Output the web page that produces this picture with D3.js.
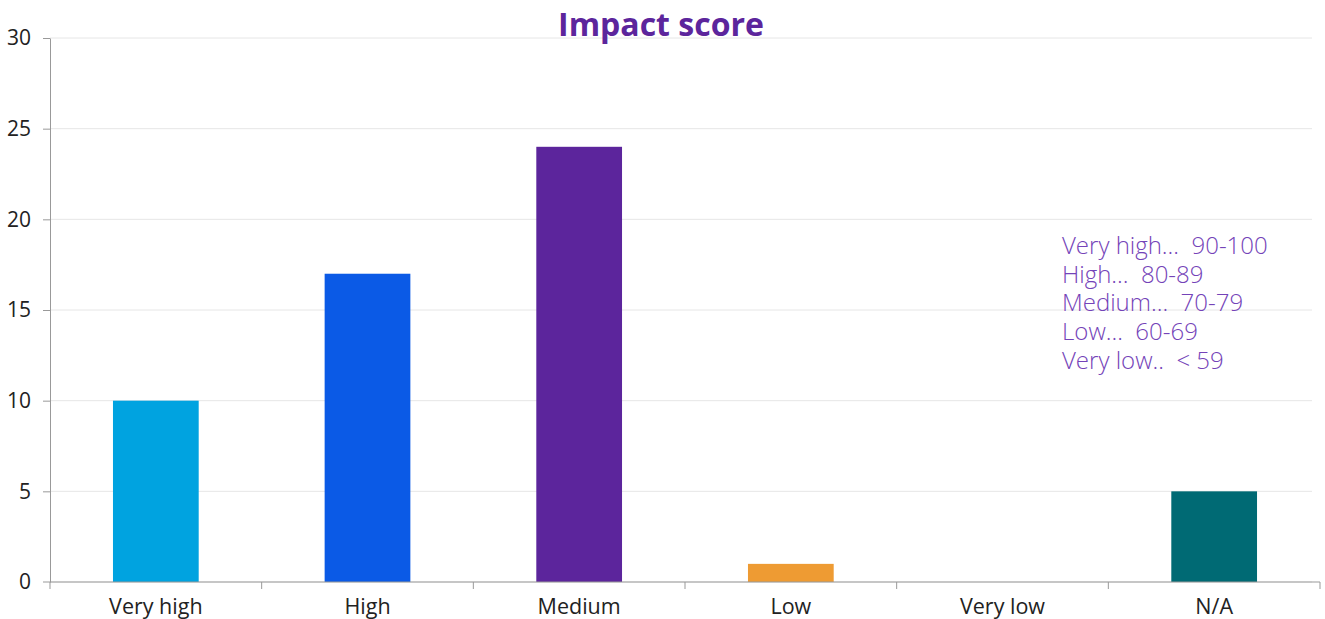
<!DOCTYPE html>
<html>
<head>
<meta charset="utf-8">
<script src="https://cdn.jsdelivr.net/npm/d3@7"></script>
<style>
  body { margin: 0; background: #fff; }
  text { font-family: "Open Sans", sans-serif; }
</style>
</head>
<body>
<svg id="chart"></svg>
<script>
const categories = ["Very high", "High", "Medium", "Low", "Very low", "N/A"];
const counts = [10, 17, 24, 1, 0, 5];
const barColors = ["#00a3e0", "#0b5ae6", "#5c259c", "#ee9b33", "#bbbbbb", "#006a74"];
const yTicks = [0, 5, 10, 15, 20, 25, 30];
const legendLines = ["Very high...  90-100", "High...  80-89", "Medium...  70-79", "Low...  60-69", "Very low..  < 59"];

function getConfig() {
    let width = 1325;
    let height = 619;
    let margin = {top: 38, right: 5, bottom: 37, left: 50};
    let container = d3.select("#chart")
        .attr("width", width)
        .attr("height", height);
    return {width, height, margin, container};
}

function drawChart() {
    const {width, height, margin, container} = getConfig();

    const x = d3.scaleBand()
        .domain(categories)
        .range([margin.left, width - margin.right])
        .paddingInner(0.595)
        .paddingOuter(0.2975);

    const y = d3.scaleLinear()
        .domain([0, 30])
        .range([height - margin.bottom, margin.top]);

    // gridlines
    container.append("g")
        .selectAll("line")
        .data(yTicks)
        .enter()
        .append("line")
        .attr("x1", margin.left)
        .attr("x2", width - margin.right - 8)
        .attr("y1", d => y(d))
        .attr("y2", d => y(d))
        .attr("stroke", "#e6e6e6");

    // bars
    container.append("g")
        .selectAll("rect")
        .data(categories)
        .enter()
        .append("rect")
        .attr("x", d => x(d))
        .attr("width", x.bandwidth())
        .attr("y", (d, i) => y(counts[i]))
        .attr("height", (d, i) => y(0) - y(counts[i]))
        .attr("fill", (d, i) => barColors[i]);

    // y axis
    const yAxis = container.append("g")
        .attr("transform", `translate(${margin.left},0)`)
        .call(d3.axisLeft(y).tickValues(yTicks).tickSize(7).tickSizeOuter(0).tickPadding(12));
    yAxis.select(".domain").attr("stroke", "#999");
    yAxis.selectAll(".tick line").attr("stroke", "#999");
    yAxis.selectAll(".tick text")
        .attr("font-size", 21)
        .attr("fill", "#222")
        .style("font-family", "'Open Sans', sans-serif");
    yAxis.selectAll(".tick").filter(d => d === 0).select("line").remove();

    // x axis: ticks at band boundaries
    const xAxisG = container.append("g")
        .attr("transform", `translate(0,${y(0)})`);
    xAxisG.append("line")
        .attr("x1", margin.left - 7)
        .attr("x2", width - margin.right)
        .attr("stroke", "#999");
    const bounds = d3.range(categories.length + 1).map(i => margin.left + i * (width - margin.left - margin.right) / categories.length);
    xAxisG.selectAll(".bt")
        .data(bounds)
        .enter()
        .append("line")
        .attr("class", "bt")
        .attr("x1", d => d)
        .attr("x2", d => d)
        .attr("y1", 0)
        .attr("y2", 7)
        .attr("stroke", "#999");
    xAxisG.selectAll(".lbl")
        .data(categories)
        .enter()
        .append("text")
        .attr("class", "lbl")
        .attr("x", d => x(d) + x.bandwidth() / 2)
        .attr("y", 32)
        .attr("text-anchor", "middle")
        .attr("font-size", 21.5)
        .attr("fill", "#222")
        .text(d => d);

    // title
    container.append("text")
        .attr("x", 661)
        .attr("y", 36)
        .attr("text-anchor", "middle")
        .attr("font-size", 32)
        .attr("font-weight", "bold")
        .attr("fill", "#5c259c")
        .text("Impact score");

    // legend text
    container.append("g")
        .selectAll("text")
        .data(legendLines)
        .enter()
        .append("text")
        .attr("x", 1062)
        .attr("y", (d, i) => 254 + i * 28.7)
        .attr("font-size", 24)
        .attr("font-weight", 300)
        .attr("fill", "#7443b8")
        .style("white-space", "pre")
        .text(d => d);
}

drawChart();
</script>
</body>
</html>
